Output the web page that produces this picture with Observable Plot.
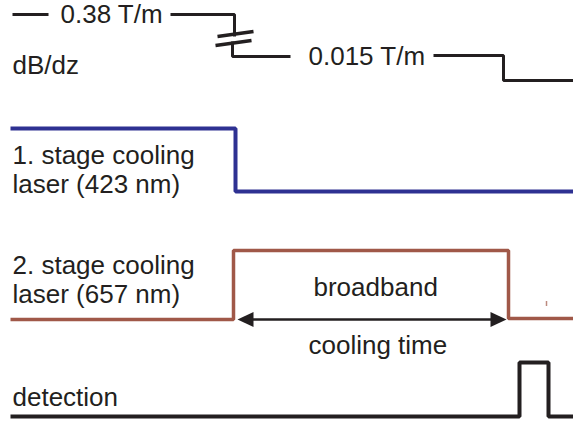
<!DOCTYPE html>
<html>
<head>
<meta charset="utf-8">
<script src="https://cdn.jsdelivr.net/npm/d3@7"></script>
<script src="https://cdn.jsdelivr.net/npm/@observablehq/plot@0.6"></script>
<style>
  html, body { margin: 0; padding: 0; background: #fff; }
  #chart svg { display: block; }
</style>
</head>
<body>
<div id="chart"></div>
<script>
// Timing sequence: time runs left to right, each channel is a step trace.
// Times and levels are in drawing units of the schematic (y grows downward).

// Magnetic field gradient dB/dz (NaN breaks the trace where a label sits)
const fieldTime  = [12, 48, NaN, 170, 234, 234, NaN, 232, 232, 290, NaN, 433, 503, 503, 573];
const fieldLevel = [14, 14, NaN, 14, 14, 36, NaN, 41, 56, 56, NaN, 55, 55, 80, 80];
// axis-break marks on the field ramp
const breakX1 = [217, 215];
const breakY1 = [36, 45];
const breakX2 = [253, 251];
const breakY2 = [31, 40];

// 1. stage cooling laser (423 nm)
const blueTime  = [10, 235, 235, 573];
const blueLevel = [128, 128, 191, 191];

// 2. stage cooling laser (657 nm), broadband
const redTime  = [10, 233, 233, 508, 508, 573];
const redLevel = [319, 319, 250, 250, 318, 318];

// detection pulse
const detTime  = [10, 519, 519, 548, 548, 573];
const detLevel = [416, 416, 362, 362, 416, 416];

// cooling time span (double arrow)
const coolStart = 237;
const coolEnd = 506;
const coolLevel = 319;

// labels
const labelText = ["0.38 T/m", "dB/dz", "0.015 T/m",
  "1. stage cooling", "laser (423 nm)",
  "2. stage cooling", "laser (657 nm)",
  "broadband", "cooling time", "detection"];
const labelX = [60, 12, 308, 12, 12, 12, 12, 313, 308, 12];
const labelY = [14, 65, 56, 155, 184, 265, 294, 287, 345, 397];

const toPoints = (xs, ys) => xs.map((x, i) => ({x, y: ys[i]}));

const ink = "#231f20";
const blue = "#2e3192";
const brown = "#a05848";

// filled arrowhead, tip at the origin, pointing along +x
const arrowHead = {
  draw(ctx) {
    ctx.moveTo(0, 0);
    ctx.lineTo(-16, -7.5);
    ctx.lineTo(-16, 7.5);
    ctx.closePath();
  }
};

const labels = labelText.map((text, i) => ({text, x: labelX[i], y: labelY[i]}));
const breaks = breakX1.map((x1, i) => ({x1, y1: breakY1[i], x2: breakX2[i], y2: breakY2[i]}));

const chart = Plot.plot({
  width: 573,
  height: 421,
  margin: 0,
  x: {domain: [0, 573], range: [0, 573], axis: null},
  y: {domain: [0, 421], range: [0, 421], axis: null},
  style: {fontFamily: "'Liberation Sans', Arial, sans-serif", background: "#fff"},
  marks: [
    Plot.line(toPoints(fieldTime, fieldLevel), {x: "x", y: "y", stroke: ink, strokeWidth: 3, strokeLinejoin: "miter", strokeLinecap: "butt"}),
    Plot.link(breaks, {x1: "x1", y1: "y1", x2: "x2", y2: "y2", stroke: ink, strokeWidth: 3.5}),
    Plot.line(toPoints(blueTime, blueLevel), {x: "x", y: "y", stroke: blue, strokeWidth: 4, strokeLinejoin: "miter", strokeLinecap: "butt"}),
    Plot.line(toPoints(redTime, redLevel), {x: "x", y: "y", stroke: brown, strokeWidth: 3.5, strokeLinejoin: "miter", strokeLinecap: "butt"}),
    Plot.ruleX([546], {y1: 301, y2: 306, stroke: brown, strokeWidth: 1.5, strokeOpacity: 0.7}),
    Plot.line(toPoints(detTime, detLevel), {x: "x", y: "y", stroke: ink, strokeWidth: 4, strokeLinejoin: "miter", strokeLinecap: "butt"}),
    Plot.ruleY([coolLevel], {x1: coolStart + 10, x2: coolEnd - 10, stroke: ink, strokeWidth: 2.5}),
    Plot.dot([{x: coolStart, r: 180}, {x: coolEnd, r: 0}], {x: "x", y: () => coolLevel, rotate: "r", symbol: arrowHead, fill: ink, stroke: "none", r: 8}),
    Plot.text(labels, {x: "x", y: "y", text: "text", textAnchor: "start", lineAnchor: "middle", fontSize: 26, fill: ink})
  ]
});

document.getElementById("chart").append(chart);
</script>
</body>
</html>
